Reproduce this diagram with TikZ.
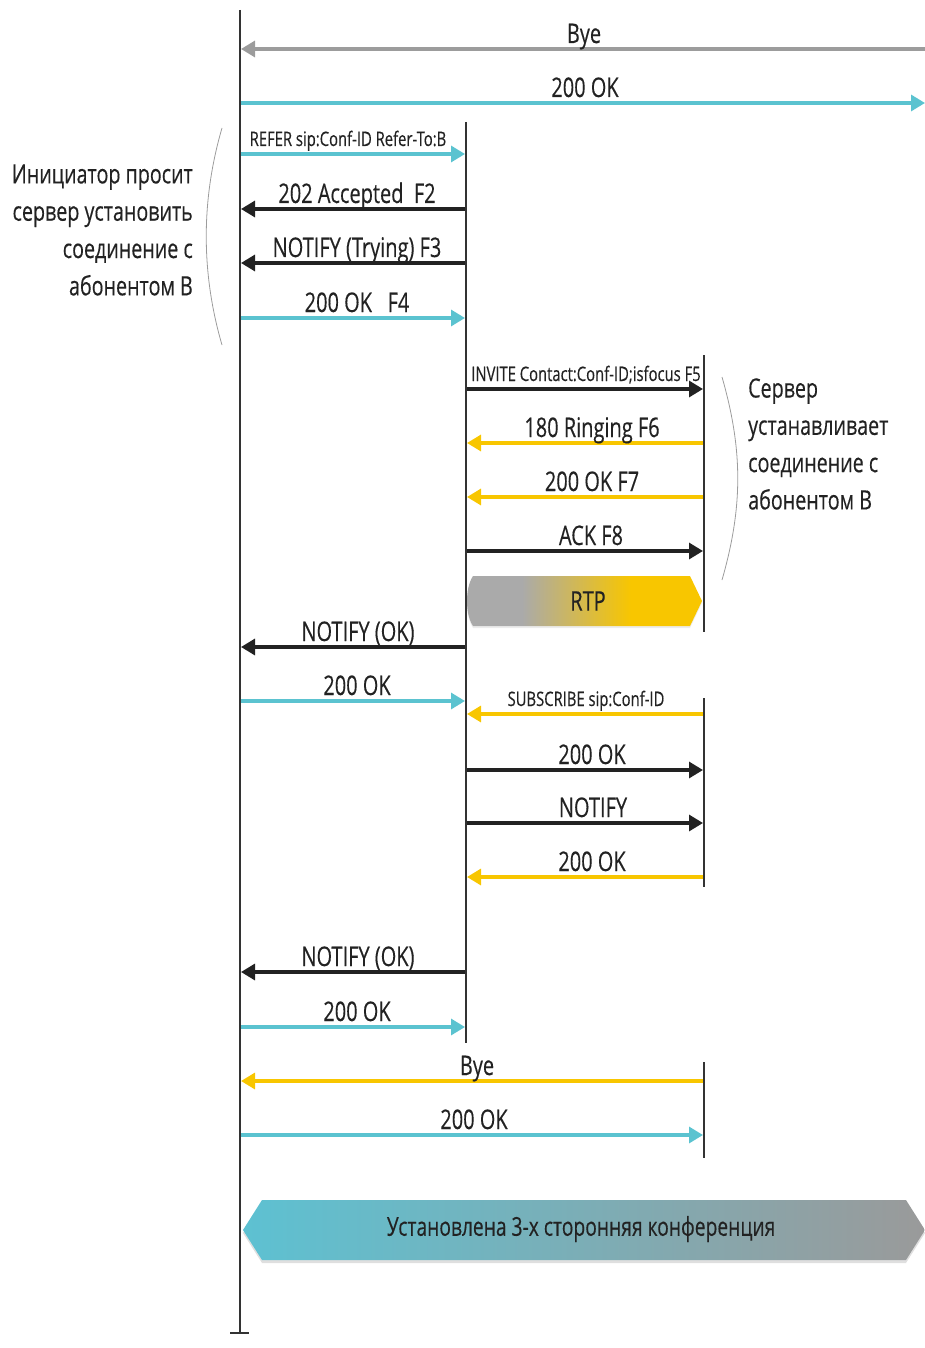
\documentclass[tikz,border=0pt]{standalone}
\usepackage{fontspec}
\setmainfont{Open Sans}[FakeStretch=0.74,FakeBold=0.3]
\usetikzlibrary{arrows.meta,shadows}
\definecolor{cy}{HTML}{5BC3D0}
\definecolor{yl}{HTML}{F8C600}
\definecolor{gr}{HTML}{9C9C9C}
\definecolor{lgr}{HTML}{AAAAAA}
\definecolor{bcy}{HTML}{5DC1D2}
\definecolor{bgr}{HTML}{9A9A9A}
\definecolor{bk}{HTML}{222222}
\definecolor{ln}{HTML}{333333}
\pgfdeclarehorizontalshading{rtpshade}{100bp}{color(0bp)=(lgr); color(37bp)=(lgr); color(60bp)=(yl); color(100bp)=(yl)}
\pgfdeclarehorizontalshading{confshade}{100bp}{color(0bp)=(bcy); color(25bp)=(bcy); color(75bp)=(bgr); color(100bp)=(bgr)}
\newcommand\bigf{\fontsize{27}{30}\selectfont}
\newcommand\smf{\fontsize{20}{22}\selectfont}
\newcommand\txtf{\fontsize{26.6}{37.3}\selectfont}
\newcommand\conff{\fontsize{26}{30}\selectfont}
\newcommand\msg[7]{%
  \coordinate (#1s) at (#2,#4);
  \coordinate (#1e) at (#3,#4);
  \draw[#5] (#1s) -- (#1e) node[midway, lbl, #7] (#1l) {#6};}
\tikzset{
  life/.style={line width=2pt, draw=ln},
  arr/.style={line width=3.2pt, -{Triangle[length=14pt,width=16pt]}},
  cyarr/.style={arr, draw=cy, fill=cy},
  ylarr/.style={arr, draw=yl, fill=yl},
  bkarr/.style={arr, draw=bk, fill=bk},
  grarr/.style={arr, draw=gr, fill=gr},
  lbl/.style={anchor=base, yshift=6pt, font=\bigf, text=bk, inner sep=0pt},
  sml/.style={font=\smf, yshift=2pt},
  brk/.style={draw=gr, line width=0.8pt},
  side/.style={font=\txtf, text=bk, inner sep=0pt},
}
\begin{document}
\begin{tikzpicture}[x=1pt,y=-1pt]
\useasboundingbox (0,0) rectangle (925,1348);
% lifelines
\coordinate (A0) at (240,10); \coordinate (A1) at (240,1333);
\coordinate (T0) at (230,1333); \coordinate (T1) at (249,1333);
\coordinate (S0) at (466,122); \coordinate (S1) at (466,1043);
\coordinate (B0) at (704,355); \coordinate (B1) at (704,632);
\coordinate (B2) at (704,698); \coordinate (B3) at (704,887);
\coordinate (B4) at (704,1062); \coordinate (B5) at (704,1158);
\draw[life] (A0) -- (A1);
\draw[life] (T0) -- (T1);
\draw[life] (S0) -- (S1);
\draw[life] (B0) -- (B1);
\draw[life] (B2) -- (B3);
\draw[life] (B4) -- (B5);
% messages
\msg{bye1}{925}{241}{49}{grarr}{Bye}{xshift=1pt}
\msg{ok1}{241}{925}{103}{cyarr}{200 OK}{xshift=2pt}
\msg{refer}{241}{465}{154}{cyarr}{REFER sip:Conf-ID Refer-To:B}{sml, xshift=-5pt}
\msg{ftwo}{465}{241}{209}{bkarr}{202 Accepted\ \ F2}{xshift=4pt}
\msg{fthree}{465}{241}{263}{bkarr}{NOTIFY (Trying) F3}{xshift=4pt}
\msg{ffour}{241}{465}{318}{cyarr}{200 OK\ \ \ F4}{xshift=4pt}
\msg{ffive}{467}{703}{389}{bkarr}{INVITE Contact:Conf-ID;isfocus F5}{sml, xshift=1pt}
\msg{fsix}{703}{467}{443}{ylarr}{180 Ringing F6}{xshift=7pt}
\msg{fseven}{703}{467}{497}{ylarr}{200 OK F7}{xshift=7pt}
\msg{feight}{467}{703}{551}{bkarr}{ACK F8}{xshift=6pt}
\msg{nA}{465}{241}{647}{bkarr}{NOTIFY (OK)}{xshift=5pt}
\msg{oA}{241}{465}{701}{cyarr}{200 OK}{xshift=4pt}
\msg{sub}{703}{467}{714}{ylarr}{SUBSCRIBE sip:Conf-ID}{sml, xshift=1pt}
\msg{oB}{467}{703}{770}{bkarr}{200 OK}{xshift=7pt}
\msg{nB}{467}{703}{823}{bkarr}{NOTIFY}{xshift=8pt}
\msg{oC}{703}{467}{877}{ylarr}{200 OK}{xshift=7pt}
\msg{nC}{465}{241}{972}{bkarr}{NOTIFY (OK)}{xshift=5pt}
\msg{oD}{241}{465}{1027}{cyarr}{200 OK}{xshift=4pt}
\msg{byeB}{703}{241}{1081}{ylarr}{Bye}{xshift=5pt}
\msg{oE}{241}{703}{1135}{cyarr}{200 OK}{xshift=2pt}
% brackets
\coordinate (bl1) at (222,128); \coordinate (bl2) at (222,345);
\draw[brk] (bl1) .. controls (201,200) and (201,273) .. (bl2);
\coordinate (br1) at (722,377); \coordinate (br2) at (722,580);
\draw[brk] (br1) .. controls (743,450) and (743,507) .. (br2);
% side texts
\node[side, align=right, anchor=east] (ltxt) at (193,230) {Инициатор просит\\сервер установить\\соединение с\\абонентом В};
\node[side, align=left, anchor=west] (rtxt) at (748,444) {Сервер\\устанавливает\\соединение с\\абонентом В};
% RTP banner
\path[shading=rtpshade, drop shadow={opacity=0.15, shadow xshift=0pt, shadow yshift=-2pt}] (473,576) -- (690,576) -- (702,601) -- (690,626) -- (473,626) .. controls (465,614) and (465,588) .. cycle;
\node[font=\bigf, text=bk] (rtp) at (588,601) {RTP};
% conference banner
\path[shading=confshade, drop shadow={opacity=0.25, shadow xshift=0pt, shadow yshift=-3pt}] (243,1230) -- (262,1200) -- (906,1200) -- (925,1230) -- (906,1260) -- (262,1260) -- cycle;
\node[font=\conff, text=bk] (conf) at (581,1229) {Установлена 3-х сторонняя конференция};
\end{tikzpicture}
\end{document}
